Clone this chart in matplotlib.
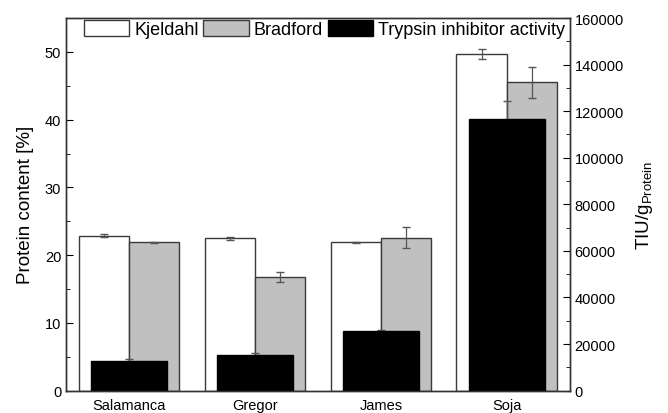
import numpy as np
import matplotlib
matplotlib.use("Agg")
import matplotlib.pyplot as plt
from matplotlib.ticker import MultipleLocator

plt.rcParams["font.family"] = ["Liberation Sans", "DejaVu Sans"]
plt.rcParams["mathtext.fontset"] = "custom"
plt.rcParams["mathtext.rm"] = "Liberation Sans"

# ── data ─────────────────────────────────────────────────────────────────────
varieties      = ["Salamanca", "Gregor", "James", "Soja"]
kjeldahl       = [22.9, 22.5, 21.9, 49.7]
kjeldahl_err   = [0.2, 0.2, 0.1, 0.7]
bradford       = [21.9, 16.75, 22.6, 45.5]
bradford_err   = [0.1, 0.7, 1.55, 2.3]
trypsin        = [12600, 15200, 25700, 116700]
trypsin_err    = [800, 1100, 300, 7600]

EDGE = "#3a3a3a"
x = np.arange(1, len(varieties) + 1)

fig, ax = plt.subplots(figsize=(6.68, 4.14), dpi=100)
fig.subplots_adjust(left=0.099, right=0.853, top=0.954, bottom=0.054)

w = 0.4
ax.bar(x - w / 2, kjeldahl, w, color="white", edgecolor=EDGE, lw=1.0,
       label="Kjeldahl", zorder=2)
ax.bar(x + w / 2, bradford, w, color="#c0c0c0", edgecolor=EDGE, lw=1.0,
       label="Bradford", zorder=2)
ax.errorbar(x - w / 2, kjeldahl, yerr=kjeldahl_err, fmt="none",
            ecolor="#555555", elinewidth=0.9, capsize=3, zorder=3)
ax.errorbar(x + w / 2, bradford, yerr=bradford_err, fmt="none",
            ecolor="#555555", elinewidth=0.9, capsize=3, zorder=3)

ax.set_xlim(0.5, 4.5)
ax.set_ylim(0, 55)
ax.set_xticks(x)
ax.set_xticklabels(varieties, fontsize=10.5)
ax.tick_params(axis="x", length=0, pad=5)
ax.yaxis.set_major_locator(MultipleLocator(10))
ax.yaxis.set_minor_locator(MultipleLocator(5))
ax.tick_params(axis="y", which="both", direction="in", labelsize=10.5)
ax.tick_params(axis="y", which="major", length=5)
ax.tick_params(axis="y", which="minor", length=3)
ax.set_ylabel("Protein content [%]", fontsize=13.5, labelpad=8)

# ── trypsin on secondary axis ────────────────────────────────────────────────
ax2 = ax.twinx()
ax2.errorbar(x, trypsin, yerr=trypsin_err, fmt="none",
             ecolor="#555555", elinewidth=0.9, capsize=3, zorder=1)
ax2.bar(x, trypsin, 0.6, color="black", edgecolor="black",
        label="Trypsin inhibitor activity", zorder=2)
ax2.set_ylim(0, 160000)
ax2.yaxis.set_major_locator(MultipleLocator(20000))
ax2.yaxis.set_minor_locator(MultipleLocator(10000))
ax2.tick_params(axis="y", which="both", direction="in", labelsize=10.5)
ax2.tick_params(axis="y", which="major", length=5)
ax2.tick_params(axis="y", which="minor", length=3)
ax2.set_ylabel(r"TIU/g$_{\mathrm{Protein}}$", fontsize=13.5, labelpad=7)

for a in (ax, ax2):
    for s in a.spines.values():
        s.set_color("#333333")
        s.set_linewidth(1.0)

h1, l1 = ax.get_legend_handles_labels()
h2, l2 = ax2.get_legend_handles_labels()
leg = ax2.legend(h1 + h2, l1 + l2, ncol=3, loc="upper center",
                 bbox_to_anchor=(0.513, 1.015), frameon=False, fontsize=13,
                 handlelength=2.5, handleheight=1.0, handletextpad=0.3,
                 columnspacing=0.25, borderaxespad=0.0)

fig.savefig("out.png", dpi=100)
